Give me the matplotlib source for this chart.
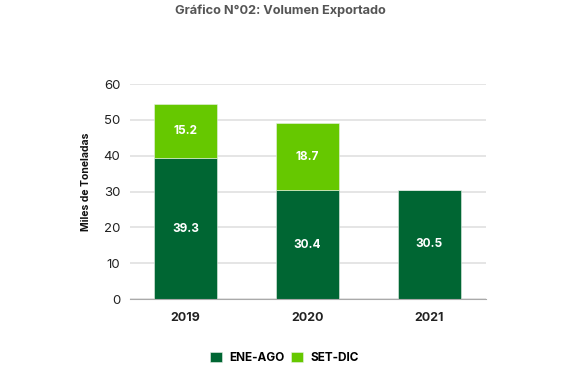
import numpy as np
import matplotlib
matplotlib.use('Agg')
import matplotlib.pyplot as plt

plt.rcParams['font.family'] = ['Inter', 'DejaVu Sans']

# datos
anios = ['2019', '2020', '2021']
ene_ago = [39.3, 30.4, 30.5]
set_dic = [15.2, 18.7, 0]
c_oscuro = '#006633'
c_claro = '#66c800'

fig = plt.figure(figsize=(5.69, 3.74), dpi=100)
ax = fig.add_axes([0.2285, 0.2005, 0.6255, 0.5749])

x = np.arange(len(anios))
ancho = 0.52
b1 = ax.bar(x, ene_ago, ancho, color=c_oscuro, label='ENE-AGO', zorder=3,
            edgecolor='#e8f0e8', linewidth=0.4)
b2 = ax.bar(x, set_dic, ancho, bottom=ene_ago, color=c_claro, label='SET-DIC',
            zorder=3, edgecolor='#e8f0e8', linewidth=0.4)

# etiquetas dentro de las barras
for i in range(len(anios)):
    ax.text(x[i], ene_ago[i] / 2, f'{ene_ago[i]:.1f}', ha='center', va='center',
            color='white', fontsize=8.5, fontweight='bold', zorder=4)
    if set_dic[i] > 0:
        ax.text(x[i], ene_ago[i] + set_dic[i] / 2, f'{set_dic[i]:.1f}', ha='center',
                va='center', color='white', fontsize=8.5, fontweight='bold', zorder=4)

ax.set_xlim(-0.455, 2.465)
ax.set_ylim(0, 60)
ax.set_yticks(range(0, 61, 10))
ax.set_xticks(x)
ax.set_xticklabels(anios, fontsize=9, fontweight='bold', color='#222222')
ax.tick_params(axis='y', labelsize=9.5, colors='#222222', length=0, pad=7)
ax.tick_params(axis='x', length=0, pad=9)
ax.grid(axis='y', color='#e0e0e0', linewidth=1.2, zorder=0)
for s in ['top', 'right', 'left']:
    ax.spines[s].set_visible(False)
ax.spines['bottom'].set_color('#aaaaaa')
ax.spines['bottom'].set_zorder(5)

ax.set_ylabel('Miles de Toneladas', fontsize=7.5, fontweight='bold', color='#111111')
ax.yaxis.set_label_coords(-0.11, 0.545)

fig.text(0.493, 0.972, 'Gráfico N°02: Volumen Exportado', ha='center', va='center',
         fontsize=9.2, fontweight='bold', color='#555555')

fig.legend(handles=[b1, b2], labels=['ENE-AGO', 'SET-DIC'], loc='center',
           bbox_to_anchor=(0.5, 0.043), ncol=2, frameon=False,
           handlelength=1.0, handleheight=1.0, handletextpad=0.6, columnspacing=0.6,
           prop={'weight': 'bold', 'size': 8.5})

fig.savefig('out.png', dpi=100)
